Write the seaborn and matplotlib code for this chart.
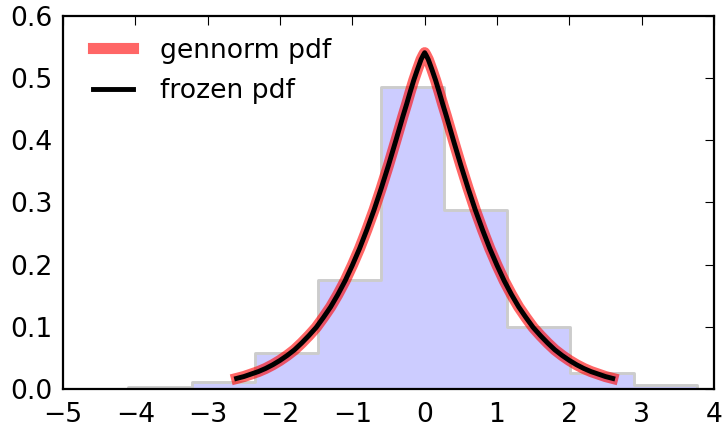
import numpy as np
import pandas as pd
import matplotlib
matplotlib.use("Agg")
import matplotlib.pyplot as plt
import seaborn as sns

# ---- data ----
bin_edges = [-4.10, -3.22, -2.35, -1.48, -0.60, 0.27, 1.14, 2.01, 2.89, 3.76]
bin_heights = [0.003, 0.011, 0.058, 0.176, 0.485, 0.288, 0.100, 0.026, 0.006]

curve_x = [-2.6, -2.5, -2.4, -2.3, -2.2, -2.1, -2.0, -1.9, -1.8, -1.7, -1.6, -1.5,
           -1.4, -1.3, -1.2, -1.1, -1.0, -0.9, -0.8, -0.7, -0.6, -0.5, -0.4, -0.3,
           -0.25, -0.2, -0.15, -0.1, -0.05, -0.02, 0.0, 0.02, 0.05, 0.1, 0.15, 0.2,
           0.25, 0.3, 0.4, 0.5, 0.6, 0.7, 0.8, 0.9, 1.0, 1.1, 1.2, 1.3, 1.4, 1.5,
           1.6, 1.7, 1.8, 1.9, 2.0, 2.1, 2.2, 2.3, 2.4, 2.5, 2.6]
curve_y = [0.017, 0.020, 0.024, 0.028, 0.033, 0.039, 0.046, 0.054, 0.063, 0.074,
           0.086, 0.099, 0.115, 0.132, 0.152, 0.174, 0.199, 0.226, 0.256, 0.288,
           0.323, 0.360, 0.399, 0.439, 0.458, 0.478, 0.497, 0.514, 0.530, 0.537,
           0.541, 0.537, 0.530, 0.514, 0.497, 0.478, 0.458, 0.439, 0.399, 0.360,
           0.323, 0.288, 0.256, 0.226, 0.199, 0.174, 0.152, 0.132, 0.115, 0.099,
           0.086, 0.074, 0.063, 0.054, 0.046, 0.039, 0.033, 0.028, 0.024, 0.020,
           0.017]

x_ticks = [-5, -4, -3, -2, -1, 0, 1, 2, 3, 4]
y_ticks = [0.0, 0.1, 0.2, 0.3, 0.4, 0.5, 0.6]

DPI = 160
sns.set_theme(style="white")
plt.rcParams.update({
    "font.family": ["DejaVu Sans"],
    "font.size": 12,
    "text.color": "black",
    "xtick.direction": "in", "ytick.direction": "in",
    "xtick.top": True, "ytick.right": True,
    "xtick.major.size": 4, "ytick.major.size": 4,
    "xtick.major.width": 0.5, "ytick.major.width": 0.5,
    "xtick.major.pad": 6, "ytick.major.pad": 4.5,
    "xtick.color": "black", "ytick.color": "black",
    "xtick.labelcolor": "black", "ytick.labelcolor": "black",
    "xtick.labelsize": 12, "ytick.labelsize": 12,
    "axes.edgecolor": "black", "axes.linewidth": 1.0,
    "lines.solid_capstyle": "projecting",
})

fig = plt.figure(figsize=(722 / DPI, 423 / DPI), dpi=DPI)
ax = fig.add_axes([63 / 722, 1 - 389 / 423, (714 - 63) / 722, (389 - 16) / 423])

centers = [(a + b) / 2 for a, b in zip(bin_edges[:-1], bin_edges[1:])]
hist_df = pd.DataFrame({"x": centers, "w": bin_heights})
sns.histplot(data=hist_df, x="x", weights="w", bins=bin_edges, element="step",
             fill=True, stat="count", color=(0.8, 0.8, 1.0), alpha=1.0,
             edgecolor=(0.8, 0.8, 0.8), linewidth=1.3, ax=ax)

curve_df = pd.DataFrame({"x": curve_x, "y": curve_y})
sns.lineplot(data=curve_df, x="x", y="y", color="red", lw=5, alpha=0.6,
             label="gennorm pdf", ax=ax, sort=False)
sns.lineplot(data=curve_df, x="x", y="y", color="black", lw=2.2,
             label="frozen pdf", ax=ax, sort=False)

ax.set_xlim(-5, 4)
ax.set_ylim(0, 0.6)
ax.set_xticks(x_ticks)
ax.set_yticks(y_ticks)
ax.set_yticklabels([f"{v:.1f}" for v in y_ticks])
ax.set_xlabel("")
ax.set_ylabel("")
for s in ax.spines.values():
    s.set_visible(True)
    s.set_color("black")
ax.legend(loc="upper left", bbox_to_anchor=(0.046, 0.942), frameon=False,
          fontsize=12, handlelength=1.5, handletextpad=1.0, labelspacing=0.55,
          borderaxespad=0.0, borderpad=0.0)

fig.savefig("out.png", dpi=DPI)
